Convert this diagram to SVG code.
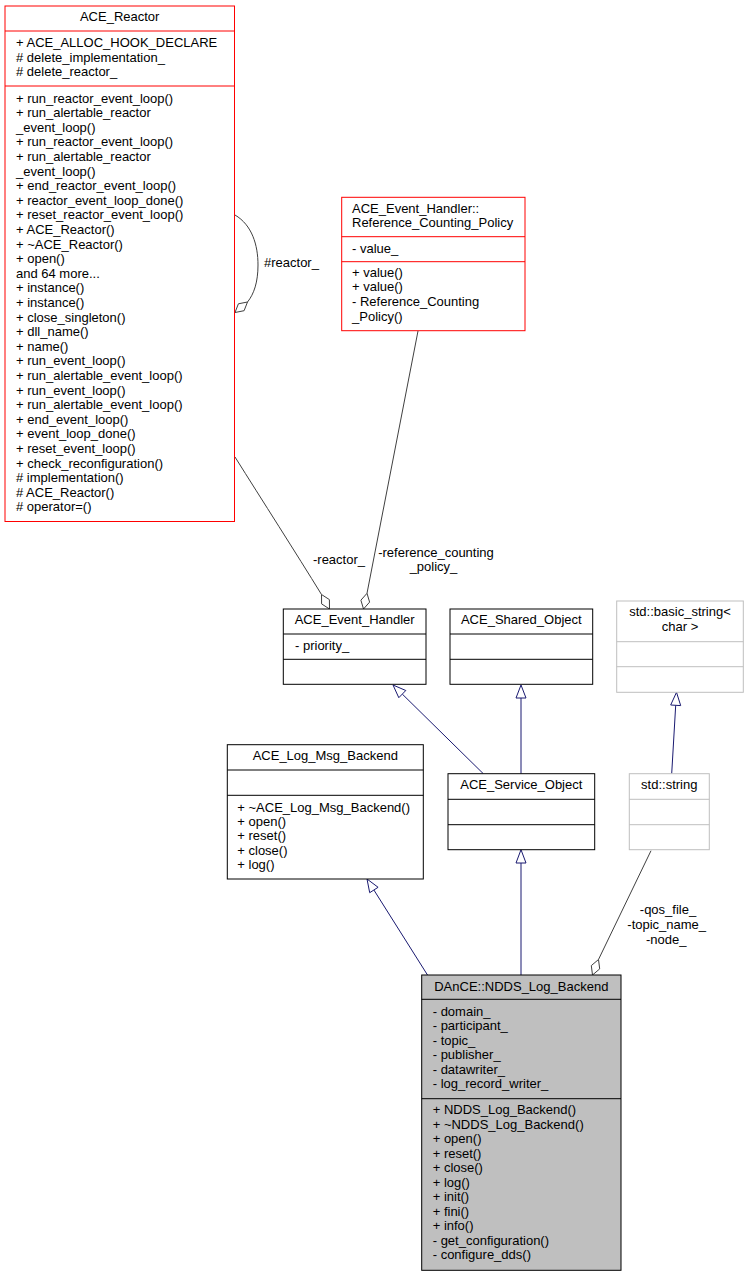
<svg xmlns="http://www.w3.org/2000/svg" width="748" height="1277" viewBox="0 0 748 1277">
<style>
text{font-family:"Liberation Sans",Arial,Helvetica,sans-serif;font-size:13px;fill:#000}
.c{text-anchor:middle}
.box{fill:#fff;stroke:#000;stroke-width:1}
.red{fill:#fff;stroke:#ff0000;stroke-width:1}
.grey{fill:#fff;stroke:#bfbfbf;stroke-width:1}
.sel{fill:#bfbfbf;stroke:#000;stroke-width:1}
.agg{fill:none;stroke:#404040;stroke-width:1}
.aggh{fill:#fff;stroke:#404040;stroke-width:1}
.inh{fill:none;stroke:#191970;stroke-width:1}
.inhh{fill:#fff;stroke:#191970;stroke-width:1}
</style>
<rect width="748" height="1277" fill="#fff"/>
<g id="connectors">
<path class="agg" d="M235,215 C252,225 258,245 258,265 C258,282 254,294 247.5,302"/>
<polygon class="aggh" points="235,312.5 238.4,303.8 247.5,302 244.1,310.7"/>
<text x="264" y="267">#reactor_</text>
<path class="agg" d="M235,457 C262,500 296,553 321.5,594.5"/>
<polygon class="aggh" points="329.5,609 321.6,603.9 321.5,594.5 329.4,599.6"/>
<text class="c" x="339" y="564">-reactor_</text>
<path class="agg" d="M418,331 L367,593.3"/>
<polygon class="aggh" points="363.5,609 360.9,600.2 367,593.3 369.6,602.1"/>
<text class="c" x="436" y="556.7">-reference_counting</text>
<text class="c" x="433.5" y="571.3">_policy_</text>
<path class="agg" d="M651,850.7 L598.5,959.5"/>
<polygon class="aggh" points="592.5,975 591.3,965.6 598.5,959.5 599.7,968.9"/>
<text class="c" x="668" y="914.3">-qos_file_</text>
<text class="c" x="666.7" y="929.3">-topic_name_</text>
<text class="c" x="666.2" y="944">-node_</text>
<path class="inh" d="M402.3,694.1 L483.3,773.7"/>
<polygon class="inhh" points="393,685 398.8,697.7 405.8,690.5"/>
<path class="inh" d="M521,698 L521,773.7"/>
<polygon class="inhh" points="521,685 516,698 526,698"/>
<path class="inh" d="M675.7,705.3 L671.7,773.7"/>
<polygon class="inhh" points="676.5,692.3 670.7,705 680.7,705.6"/>
<path class="inh" d="M373.9,890 L427.5,975"/>
<polygon class="inhh" points="367,879 369.7,892.7 378.1,887.3"/>
<path class="inh" d="M521,863 L521,975"/>
<polygon class="inhh" points="521,849.7 516,863 526,863"/>
</g>
<g id="ACE_Reactor">
<rect class="red" x="5" y="6" width="229.5" height="515.5"/>
<line x1="5" y1="31" x2="234.5" y2="31" stroke="#ff0000"/>
<line x1="5" y1="86" x2="234.5" y2="86" stroke="#ff0000"/>
<text class="c" x="119.7" y="20.7">ACE_Reactor</text>
<text x="16" y="47">+ ACE_ALLOC_HOOK_DECLARE</text>
<text x="16" y="61.6"># delete_implementation_</text>
<text x="16" y="76.2"># delete_reactor_</text>
<text x="16" y="102.6">+ run_reactor_event_loop()</text>
<text x="16" y="117.2">+ run_alertable_reactor</text>
<text x="16" y="131.8">_event_loop()</text>
<text x="16" y="146.4">+ run_reactor_event_loop()</text>
<text x="16" y="161">+ run_alertable_reactor</text>
<text x="16" y="175.6">_event_loop()</text>
<text x="16" y="190.2">+ end_reactor_event_loop()</text>
<text x="16" y="204.8">+ reactor_event_loop_done()</text>
<text x="16" y="219.4">+ reset_reactor_event_loop()</text>
<text x="16" y="234">+ ACE_Reactor()</text>
<text x="16" y="248.6">+ ~ACE_Reactor()</text>
<text x="16" y="263.2">+ open()</text>
<text x="16" y="277.8">and 64 more...</text>
<text x="16" y="292.4">+ instance()</text>
<text x="16" y="307">+ instance()</text>
<text x="16" y="321.6">+ close_singleton()</text>
<text x="16" y="336.2">+ dll_name()</text>
<text x="16" y="350.8">+ name()</text>
<text x="16" y="365.4">+ run_event_loop()</text>
<text x="16" y="380">+ run_alertable_event_loop()</text>
<text x="16" y="394.6">+ run_event_loop()</text>
<text x="16" y="409.2">+ run_alertable_event_loop()</text>
<text x="16" y="423.8">+ end_event_loop()</text>
<text x="16" y="438.4">+ event_loop_done()</text>
<text x="16" y="453">+ reset_event_loop()</text>
<text x="16" y="467.6">+ check_reconfiguration()</text>
<text x="16" y="482.2"># implementation()</text>
<text x="16" y="496.8"># ACE_Reactor()</text>
<text x="16" y="511.4"># operator=()</text>
</g>
<g id="Reference_Counting_Policy">
<rect class="red" x="341.7" y="197.3" width="183.3" height="133.4"/>
<line x1="341.7" y1="236.7" x2="525" y2="236.7" stroke="#ff0000"/>
<line x1="341.7" y1="261.7" x2="525" y2="261.7" stroke="#ff0000"/>
<text x="352" y="212.7">ACE_Event_Handler::</text>
<text x="352" y="226.7">Reference_Counting_Policy</text>
<text x="352" y="253.3">- value_</text>
<text x="352" y="276.7">+ value()</text>
<text x="352" y="291.3">+ value()</text>
<text x="352" y="306">- Reference_Counting</text>
<text x="352" y="320.6">_Policy()</text>
</g>
<g id="ACE_Event_Handler">
<rect class="box" x="283.3" y="609" width="142.7" height="75.3"/>
<line x1="283.3" y1="634" x2="426" y2="634" stroke="#000"/>
<line x1="283.3" y1="659.3" x2="426" y2="659.3" stroke="#000"/>
<text class="c" x="354.7" y="624.3">ACE_Event_Handler</text>
<text x="295" y="650">- priority_</text>
</g>
<g id="ACE_Shared_Object">
<rect class="box" x="450" y="609" width="142.7" height="75.3"/>
<line x1="450" y1="634" x2="592.7" y2="634" stroke="#000"/>
<line x1="450" y1="659.3" x2="592.7" y2="659.3" stroke="#000"/>
<text class="c" x="521.3" y="624.3">ACE_Shared_Object</text>
</g>
<g id="std_basic_string">
<rect class="grey" x="616.7" y="601" width="126.6" height="91.3"/>
<line x1="616.7" y1="641.7" x2="743.3" y2="641.7" stroke="#bfbfbf"/>
<line x1="616.7" y1="666.7" x2="743.3" y2="666.7" stroke="#bfbfbf"/>
<text class="c" x="680" y="616">std::basic_string&lt;</text>
<text class="c" x="680" y="630.7">char &gt;</text>
</g>
<g id="ACE_Log_Msg_Backend">
<rect class="box" x="227.3" y="744.7" width="196" height="134.3"/>
<line x1="227.3" y1="770" x2="423.3" y2="770" stroke="#000"/>
<line x1="227.3" y1="795.3" x2="423.3" y2="795.3" stroke="#000"/>
<text class="c" x="325.3" y="760">ACE_Log_Msg_Backend</text>
<text x="237.3" y="811.7">+ ~ACE_Log_Msg_Backend()</text>
<text x="237.3" y="826">+ open()</text>
<text x="237.3" y="840.3">+ reset()</text>
<text x="237.3" y="854.6">+ close()</text>
<text x="237.3" y="868.9">+ log()</text>
</g>
<g id="ACE_Service_Object">
<rect class="box" x="448" y="773.7" width="146.7" height="76"/>
<line x1="448" y1="799.3" x2="594.7" y2="799.3" stroke="#000"/>
<line x1="448" y1="824.7" x2="594.7" y2="824.7" stroke="#000"/>
<text class="c" x="521.3" y="789.3">ACE_Service_Object</text>
</g>
<g id="std_string">
<rect class="grey" x="629.3" y="773.7" width="80" height="76"/>
<line x1="629.3" y1="799.3" x2="709.3" y2="799.3" stroke="#bfbfbf"/>
<line x1="629.3" y1="824.7" x2="709.3" y2="824.7" stroke="#bfbfbf"/>
<text class="c" x="669.3" y="789.3">std::string</text>
</g>
<g id="NDDS_Log_Backend">
<rect class="sel" x="421.7" y="975" width="199.3" height="295.3"/>
<line x1="421.7" y1="999.3" x2="621" y2="999.3" stroke="#000"/>
<line x1="421.7" y1="1098.7" x2="621" y2="1098.7" stroke="#000"/>
<text class="c" x="521.3" y="991">DAnCE::NDDS_Log_Backend</text>
<text x="432.7" y="1015.7">- domain_</text>
<text x="432.7" y="1030.2">- participant_</text>
<text x="432.7" y="1044.7">- topic_</text>
<text x="432.7" y="1059.2">- publisher_</text>
<text x="432.7" y="1073.7">- datawriter_</text>
<text x="432.7" y="1088.2">- log_record_writer_</text>
<text x="432.7" y="1114.3">+ NDDS_Log_Backend()</text>
<text x="432.7" y="1128.8">+ ~NDDS_Log_Backend()</text>
<text x="432.7" y="1143.3">+ open()</text>
<text x="432.7" y="1157.8">+ reset()</text>
<text x="432.7" y="1172.3">+ close()</text>
<text x="432.7" y="1186.8">+ log()</text>
<text x="432.7" y="1201.3">+ init()</text>
<text x="432.7" y="1215.8">+ fini()</text>
<text x="432.7" y="1230.3">+ info()</text>
<text x="432.7" y="1244.8">- get_configuration()</text>
<text x="432.7" y="1259.3">- configure_dds()</text>
</g>
</svg>
